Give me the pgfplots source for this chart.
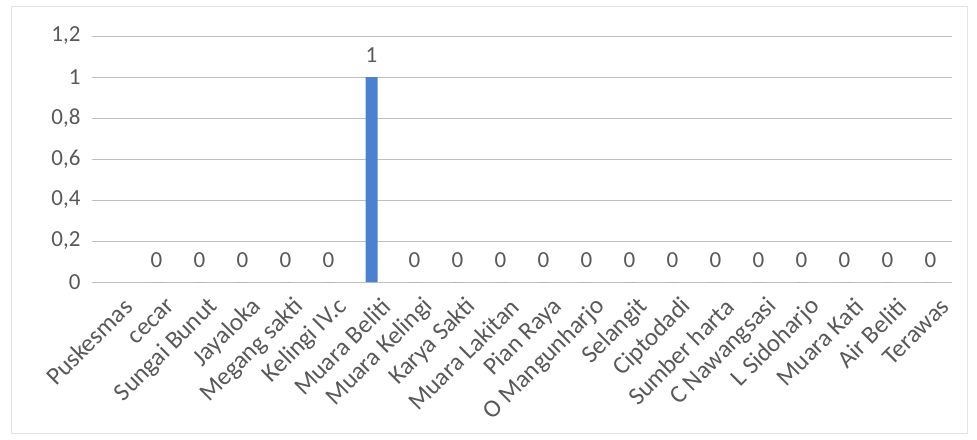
\documentclass[border=0pt]{standalone}
\usepackage{pgfplots}
\pgfplotsset{compat=1.18}
\usepackage{fontspec}
\setmainfont{Carlito}
\definecolor{txt}{RGB}{89,89,89}
\definecolor{grid}{RGB}{222,222,222}
\definecolor{bar}{RGB}{76,128,208}
\definecolor{frame}{RGB}{228,228,228}
\begin{document}
\begin{tikzpicture}
\begin{axis}[
  scale only axis,
  width=860pt, height=246pt,
  xmin=-0.5, xmax=19.5,
  ymin=0, ymax=1.2,
  ytick={0,0.2,0.4,0.6,0.8,1,1.2},
  /pgf/number format/use comma,
  /pgf/number format/assume math mode=true,
  xtick={0,...,19},
  xticklabels={Puskesmas,cecar,Sungai Bunut,Jayaloka,Megang sakti,Kelingi IV.c,Muara Beliti,Muara Kelingi,Karya Sakti,Muara Lakitan,Pian Raya,O Mangunharjo,Selangit,Ciptodadi,Sumber harta,C Nawangsasi,L Sidoharjo,Muara Kati,Air Beliti,Terawas},
  axis line style={draw=none},
  tick style={draw=none},
  xmajorgrids=false,
  ymajorgrids=true,
  major grid style={grid, line width=0.8pt},
  y tick label style={font=\fontsize{23}{26}\selectfont, text=txt, xshift=-8pt},
  x tick label style={font=\fontsize{25}{28}\selectfont, text=txt, rotate=45, anchor=east, xshift=2pt, yshift=-22pt},
  ybar, bar width=12pt,
  nodes near coords,
  every node near coord/.append style={font=\fontsize{23}{26}\selectfont, text=txt, yshift=11pt, /pgf/number format/assume math mode=true},
  clip=false,
]
\addplot[fill=bar, draw=none] coordinates {
(1,0) (2,0) (3,0) (4,0) (5,0) (6,1) (7,0) (8,0) (9,0) (10,0)
(11,0) (12,0) (13,0) (14,0) (15,0) (16,0) (17,0) (18,0) (19,0)};
\coordinate (ll) at (rel axis cs:0,0);
\end{axis}
\draw[frame, line width=1pt] ([shift={(-80pt,-151pt)}]ll) rectangle ([shift={(875pt,275pt)}]ll);
\path ([shift={(-92pt,-157pt)}]ll) rectangle ([shift={(885pt,282pt)}]ll);
\end{tikzpicture}
\end{document}
